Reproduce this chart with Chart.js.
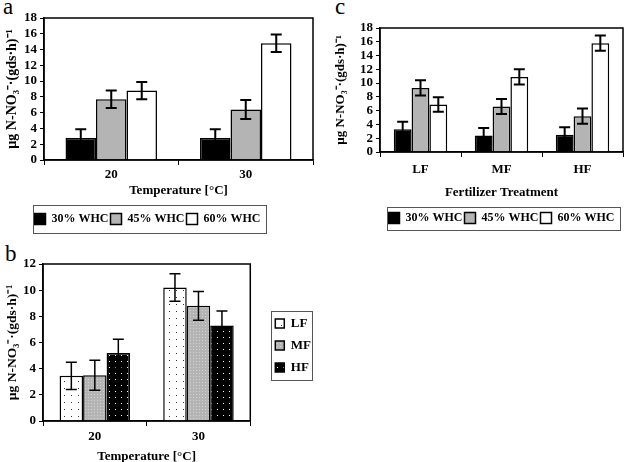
<!DOCTYPE html>
<html>
<head>
<meta charset="utf-8">
<script src="https://cdn.jsdelivr.net/npm/chart.js@4.4.1/dist/chart.umd.min.js"></script>
<style>
  html, body { margin: 0; padding: 0; background: #fff; width: 624px; height: 462px; overflow: hidden; }
  canvas { position: absolute; }
  .tag { position: absolute; font-family: "Liberation Serif", serif; font-size: 23px; line-height: 1; color: #000; }
</style>
</head>
<body>
<div class="tag" style="left:3px; top:-5px;">a</div>
<div class="tag" style="left:5px; top:242px;">b</div>
<div class="tag" style="left:335px; top:-5px;">c</div>
<canvas id="chartA" width="316" height="240" style="left:0; top:0;"></canvas>
<canvas id="chartB" width="340" height="226" style="left:0; top:240px;"></canvas>
<canvas id="chartC" width="294" height="240" style="left:330px; top:0;"></canvas>
<script>
// Panel a: rate by temperature and water holding capacity
const tempLabels = ['20', '30'];
const whcNames = ['30% WHC', '45% WHC', '60% WHC'];
const whc30ByTemp = [2.8, 2.8];
const whc45ByTemp = [7.7, 6.4];
const whc60ByTemp = [8.8, 14.8];
const whc30ByTempErr = [1.1, 1.1];
const whc45ByTempErr = [1.1, 1.2];
const whc60ByTempErr = [1.1, 1.1];

// Panel b: rate by temperature and fertilizer level
const fertNames = ['LF', 'MF', 'HF'];
const lfByTemp = [3.45, 10.2];
const mfByTemp = [3.5, 8.8];
const hfByTemp = [5.2, 7.3];
const lfByTempErr = [1.05, 1.05];
const mfByTempErr = [1.15, 1.1];
const hfByTempErr = [1.05, 1.1];

// Panel c: rate by fertilizer treatment and water holding capacity
const fertLabels = ['LF', 'MF', 'HF'];
const whc30ByFert = [3.3, 2.4, 2.5];
const whc45ByFert = [9.3, 6.6, 5.2];
const whc60ByFert = [6.9, 10.9, 15.8];
const whc30ByFertErr = [1.1, 1.1, 1.1];
const whc45ByFertErr = [1.1, 1.1, 1.1];
const whc60ByFertErr = [1.05, 1.1, 1.1];

const rateTicks18 = { min: 0, max: 18, step: 2 };
const rateTicks12 = { min: 0, max: 12, step: 2 };

const yTitle = 'µg N-NO₃⁻·(gds·h)⁻¹';
const serif = '"Liberation Serif", "Times New Roman", serif';
const GRAY = '#b4b4b4';

// small dotted fills for panel b
function dotPattern(bg, dot, size) {
    const c = document.createElement('canvas');
    c.width = size;
    c.height = size;
    const g = c.getContext('2d');
    g.fillStyle = bg;
    g.fillRect(0, 0, size, size);
    g.fillStyle = dot;
    g.fillRect(1, 1, 1, 1);
    return g.createPattern(c, 'repeat');
}

// error bars drawn from each dataset's errors array
const errorBars = {
    id: 'errorBars',
    afterDatasetsDraw(chart, args, opts) {
        const ctx = chart.ctx;
        const y = chart.scales.y;
        const half = opts.cap / 2;
        ctx.save();
        ctx.strokeStyle = '#000';
        ctx.lineWidth = opts.width;
        chart.data.datasets.forEach((ds, i) => {
            chart.getDatasetMeta(i).data.forEach((bar, j) => {
                const top = y.getPixelForValue(ds.data[j] + ds.errors[j]);
                const bot = y.getPixelForValue(ds.data[j] - ds.errors[j]);
                ctx.beginPath();
                ctx.moveTo(bar.x, top);
                ctx.lineTo(bar.x, bot);
                ctx.moveTo(bar.x - half, top);
                ctx.lineTo(bar.x + half, top);
                ctx.moveTo(bar.x - half, bot);
                ctx.lineTo(bar.x + half, bot);
                ctx.stroke();
            });
        });
        ctx.restore();
    }
};

// box round the plot area
const frame = {
    id: 'frame',
    afterDraw(chart) {
        const a = chart.chartArea;
        const ctx = chart.ctx;
        ctx.save();
        ctx.strokeStyle = '#000';
        ctx.lineWidth = 1.5;
        ctx.strokeRect(a.left, a.top, a.right - a.left, a.bottom - a.top);
        ctx.restore();
    }
};

// nudge the legend and put a border round it
const legendBox = {
    id: 'legendBox',
    afterLayout(chart, args, opts) {
        const lg = chart.legend;
        lg.left += opts.dx; lg.right += opts.dx;
        lg.top += opts.dy; lg.bottom += opts.dy;
    },
    afterDraw(chart, args, opts) {
        const boxes = chart.legend.legendHitBoxes;
        let l = Infinity, r = -Infinity, t = Infinity, b = -Infinity;
        boxes.forEach(h => {
            l = Math.min(l, h.left);
            r = Math.max(r, h.left + h.width);
            t = Math.min(t, h.top);
            b = Math.max(b, h.top + h.height);
        });
        const p = opts.pad;
        const ctx = chart.ctx;
        ctx.save();
        ctx.strokeStyle = '#555';
        ctx.lineWidth = 1;
        ctx.strokeRect(Math.round(l - p[0]) + 0.5, Math.round(t - p[1]) + 0.5,
            Math.round(r - l + p[0] + p[2]), Math.round(b - t + p[1] + p[3]));
        ctx.restore();
    }
};

function barSet(label, data, errors, fill) {
    return { label, data, errors, backgroundColor: fill, borderColor: '#000', borderWidth: 1.5 };
}

function buildOptions(cfg) {
    return {
        responsive: false,
        animation: false,
        categoryPercentage: cfg.catPct,
        barPercentage: 1,
        layout: { padding: cfg.padding },
        plugins: {
            tooltip: { enabled: false },
            legend: {
                position: cfg.legendPos,
                fullSize: cfg.legendFull,
                labels: {
                    color: '#000',
                    font: { family: serif, size: cfg.legendFont, weight: 'bold' },
                    boxWidth: cfg.legendBoxSize,
                    boxHeight: cfg.legendBoxSize,
                    padding: cfg.legendPadding
                }
            },
            legendBox: { dx: cfg.legendDx, dy: cfg.legendDy, pad: cfg.legendPad },
            errorBars: { cap: cfg.cap, width: cfg.errWidth }
        },
        scales: {
            x: {
                grid: { offset: true, drawOnChartArea: false, tickLength: 5, color: '#000' },
                border: { color: '#000', width: 1.5 },
                ticks: { color: '#000', font: { family: serif, size: 13, weight: 'bold' }, padding: cfg.xTickPad, maxRotation: 0 },
                title: {
                    display: true, text: cfg.xTitle, color: '#000',
                    font: { family: serif, size: 13, weight: 'bold' },
                    padding: { top: 0, bottom: cfg.xTitlePad }
                },
                afterFit: s => { s.height = cfg.xHeight; }
            },
            y: {
                min: cfg.range.min,
                max: cfg.range.max,
                grid: { drawOnChartArea: false, tickLength: 4, color: '#000' },
                border: { color: '#000', width: 1.5 },
                ticks: {
                    stepSize: cfg.range.step, autoSkip: false, color: '#000',
                    font: { family: serif, size: 13, weight: 'bold', lineHeight: 1 }, padding: 3
                },
                title: {
                    display: true, text: yTitle, color: '#000',
                    font: { family: serif, size: cfg.yTitleSize, weight: 'bold' },
                    padding: { top: cfg.yTitlePad, bottom: 0 }
                },
                afterFit: s => { s.width = cfg.yWidth; }
            }
        }
    };
}

const plugins = [errorBars, frame, legendBox];

new Chart(document.getElementById('chartA'), {
    type: 'bar',
    data: {
        labels: tempLabels,
        datasets: [
            barSet(whcNames[0], whc30ByTemp, whc30ByTempErr, '#000'),
            barSet(whcNames[1], whc45ByTemp, whc45ByTempErr, GRAY),
            barSet(whcNames[2], whc60ByTemp, whc60ByTempErr, '#fff')
        ]
    },
    options: buildOptions({
        catPct: 0.68, padding: { top: 18, right: 3, bottom: 5, left: 0 },
        legendPos: 'bottom', legendFull: true, legendFont: 12, legendBoxSize: 11, legendPadding: 2,
        legendDx: -9, legendDy: 0, legendPad: [2, 8, 5, 8],
        cap: 11, errWidth: 2,
        xTitle: 'Temperature [°C]', xTickPad: 2, xTitlePad: 13, xHeight: 51,
        range: rateTicks18, yTitleSize: 14, yTitlePad: 4, yWidth: 44
    }),
    plugins
});

new Chart(document.getElementById('chartB'), {
    type: 'bar',
    data: {
        labels: tempLabels,
        datasets: [
            barSet(fertNames[0], lfByTemp, lfByTempErr, dotPattern('#fff', '#333', 7)),
            barSet(fertNames[1], mfByTemp, mfByTempErr, dotPattern('#b4b4b4', '#d2d2d2', 3)),
            barSet(fertNames[2], hfByTemp, hfByTempErr, dotPattern('#000', '#fff', 6))
        ]
    },
    options: buildOptions({
        catPct: 0.68, padding: { top: 24, right: 35, bottom: 0, left: 0 },
        legendPos: 'right', legendFull: false, legendFont: 13, legendBoxSize: 9, legendPadding: 9,
        legendDx: 16, legendDy: 3, legendPad: [4, 6, 1, 6],
        cap: 11, errWidth: 1.5,
        xTitle: 'Temperature [°C]', xTickPad: 3, xTitlePad: 2, xHeight: 45,
        range: rateTicks12, yTitleSize: 13.5, yTitlePad: 4, yWidth: 43
    }),
    plugins
});

new Chart(document.getElementById('chartC'), {
    type: 'bar',
    data: {
        labels: fertLabels,
        datasets: [
            barSet(whcNames[0], whc30ByFert, whc30ByFertErr, '#000'),
            barSet(whcNames[1], whc45ByFert, whc45ByFertErr, GRAY),
            barSet(whcNames[2], whc60ByFert, whc60ByFertErr, '#fff')
        ]
    },
    options: buildOptions({
        catPct: 0.66, padding: { top: 28, right: 1, bottom: 6, left: 0 },
        legendPos: 'bottom', legendFull: true, legendFont: 12, legendBoxSize: 11, legendPadding: 2,
        legendDx: 25, legendDy: 0, legendPad: [2, 5, 5, 6],
        cap: 11, errWidth: 2,
        xTitle: 'Fertilizer Treatment', xTickPad: 5, xTitlePad: 10, xHeight: 58,
        range: rateTicks18, yTitleSize: 13, yTitlePad: 3, yWidth: 50
    }),
    plugins
});
</script>
</body>
</html>
